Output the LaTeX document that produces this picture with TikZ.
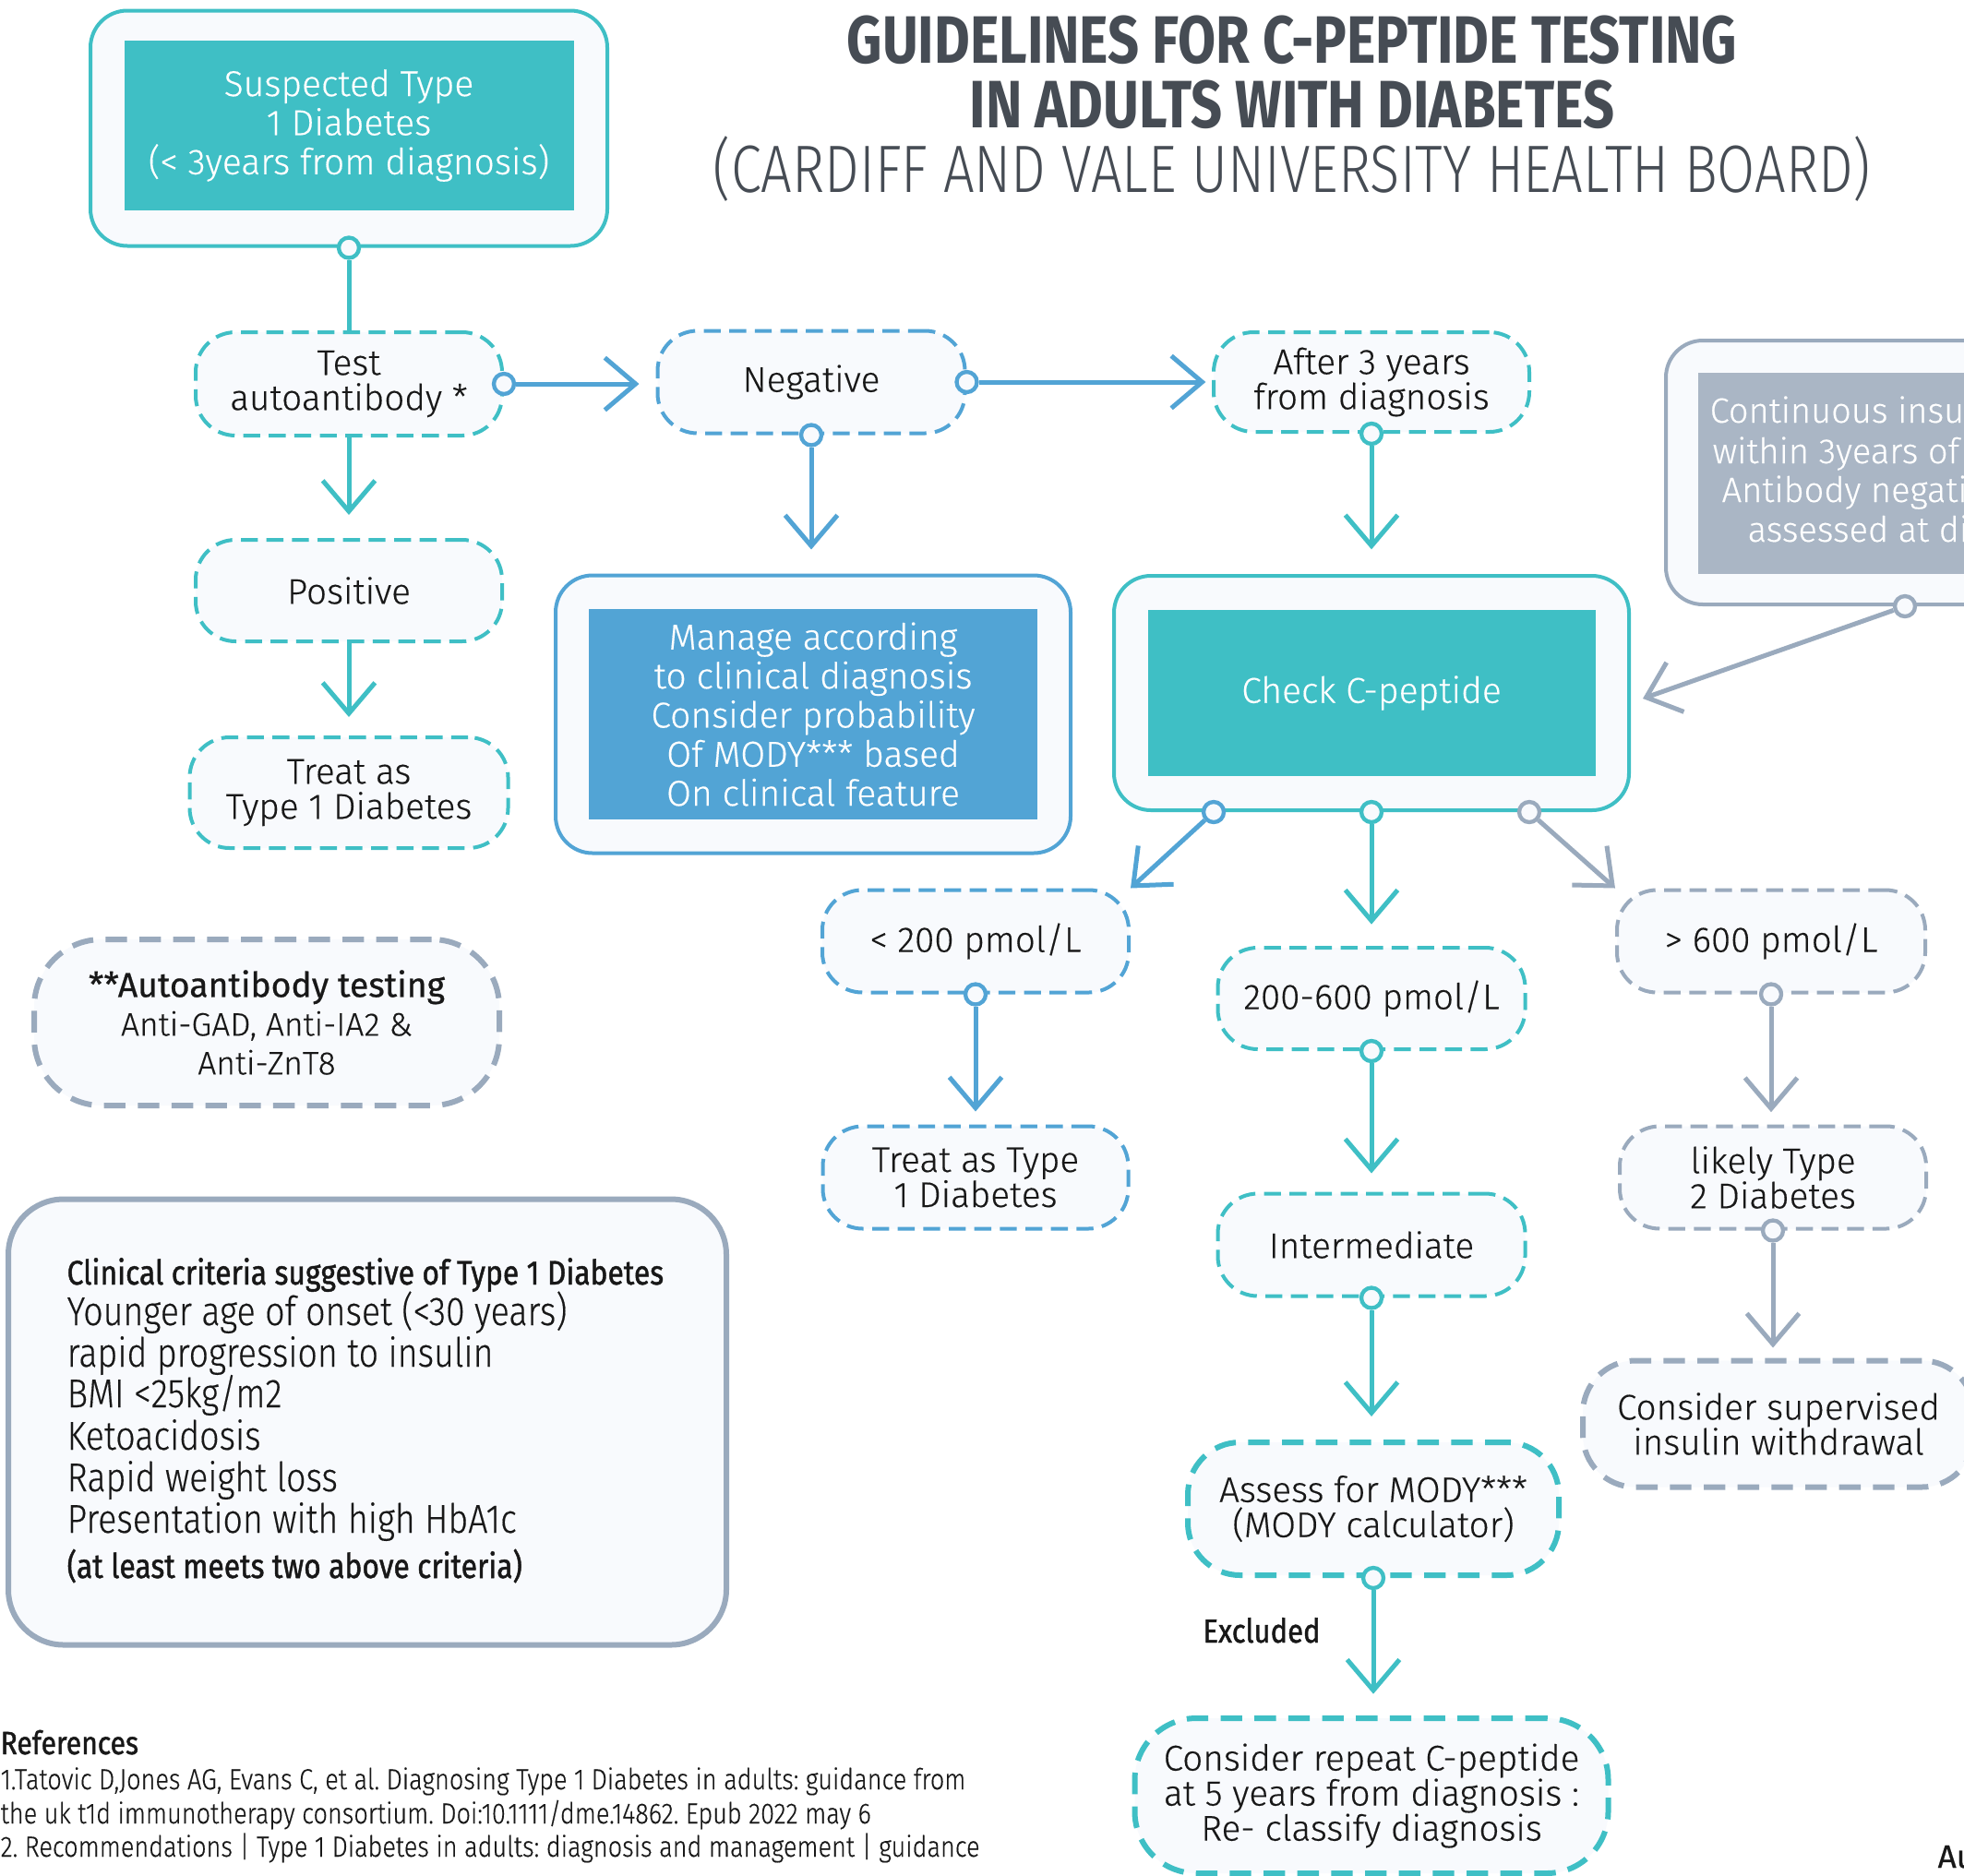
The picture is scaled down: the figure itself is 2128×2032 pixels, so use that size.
\documentclass[tikz,border=0pt]{standalone}
\usepackage{fontspec}
\setmainfont{Fira Sans Light}[FakeBold=0.35]
\newfontfamily\condfont{Fira Sans Light}[FakeStretch=0.86,FakeBold=0.35]
\newfontfamily\condmed{Fira Sans}[FakeStretch=0.86,FakeBold=1.2]
\newfontfamily\medfont{Fira Sans}[FakeBold=0.6]
\newfontfamily\titlefont{Fira Sans}[FakeStretch=0.82]
\newfontfamily\titlelight{Fira Sans Light}[FakeStretch=0.82]
\usetikzlibrary{arrows.meta}
\definecolor{cteal}{RGB}{63,191,197}
\definecolor{cblue}{RGB}{82,164,213}
\definecolor{cgrayl}{RGB}{154,170,189}
\definecolor{cgrayf}{RGB}{170,182,197}
\definecolor{cbg}{RGB}{248,250,253}
\definecolor{ctitle}{RGB}{70,76,84}
\definecolor{ctext}{RGB}{24,24,24}
\newcommand{\myfs}[2]{\fontsize{#1}{#2}\selectfont}
\frenchspacing
\tikzset{
  sz/.style 2 args={minimum width=#1*0.3pt, minimum height=#2*0.3pt},
  dnode/.style={draw=#1, fill=cbg, line width=1.2pt, dash pattern=on 5.5pt off 2.8pt, rounded corners=13pt, align=center, inner sep=0pt, text=ctext, font=\myfs{11.6}{11.4}},
  dthick/.style={dnode=#1, line width=1.8pt, dash pattern=on 7pt off 4pt},
  obox/.style={draw=#1, fill=cbg, line width=1.2pt, rounded corners=12pt, inner sep=0pt},
  ibox/.style={fill=#1, text=white, align=center, inner sep=0pt, font=\myfs{11.7}{12.7}},
  dot/.style={circle, draw=#1, fill=cbg, line width=1.3pt, minimum size=6.6pt, inner sep=0pt},
  conn/.style={draw=#1, line width=1.5pt, -{Straight Barb[length=10pt,width=17pt]}},
  link/.style={draw=#1, line width=1.5pt},
  ttl/.style={text=ctitle, anchor=base, inner sep=0pt},
  crit/.style={anchor=base west, inner sep=0pt, text=ctext, font=\condfont\myfs{13.1}{14}},
  refl/.style={anchor=base west, inner sep=0pt, text=ctext, font=\condfont\myfs{9.45}{10}},
  ctxt/.style={anchor=base west, inner sep=0pt, text=white, font=\myfs{11.4}{12}},
}
\begin{document}
\begin{tikzpicture}[x=0.3pt,y=-0.3pt]
\clip (0,0) rectangle (2128,2032);
\fill[white] (0,0) rectangle (2128,2032);

% title
\node[ttl, font=\titlefont\bfseries\myfs{21.8}{22}] (t1) at (1400,68) {GUIDELINES FOR C-PEPTIDE TESTING};
\node[ttl, font=\titlefont\bfseries\myfs{21.8}{22}] (t2) at (1400,138) {IN ADULTS WITH DIABETES};
\node[ttl, font=\titlelight\myfs{21.8}{22}] (t3) at (1400,208) {(CARDIFF AND VALE UNIVERSITY HEALTH BOARD)};

% solid boxes
\node[obox=cteal, sz={560}{255}] (sus) at (378,139) {};
\node[ibox=cteal, sz={487}{184}] (susin) at (378,136) {Suspected Type\\1 Diabetes\\(< 3years from diagnosis)};

\node[obox=cblue, sz={558}{301}] (man) at (881,774) {};
\node[ibox=cblue, sz={486}{228}] (manin) at (881,774) {Manage according\\to clinical diagnosis\\Consider probability\\Of MODY*** based\\On clinical feature};

\node[obox=cteal, sz={558}{254}] (chk) at (1486,751) {};
\node[ibox=cteal, sz={485}{180}] (chkin) at (1486,751) {Check C-peptide};

\node[obox=cgrayl, sz={560}{286}] (cont) at (2085,512) {};
\node[ibox=cgrayf, sz={487}{218}] (contin) at (2083,513) {};
\node[ctxt] (ct1) at (1852,458) {Continuous insulin};
\node[ctxt] (ct2) at (1855,502) {within 3years of diagnosis};
\node[ctxt] (ct3) at (1865,544) {Antibody negative};
\node[ctxt] (ct4) at (1893,587) {assessed at diagnosis};

% dashed nodes
\node[dnode=cteal, sz={332}{112}] (test) at (378,416) {Test\\autoantibody *};
\node[dnode=cblue, sz={333}{111}] (neg) at (879,414) {Negative};
\node[dnode=cteal, sz={342}{108}] (aft) at (1486,414) {After 3 years\\from diagnosis};
\node[dnode=cteal, sz={332}{110}] (pos) at (378,640) {Positive};
\node[dnode=cteal, sz={345}{120}] (trl) at (378,859) {Treat as\\Type 1 Diabetes};
\node[dnode=cblue, sz={332}{111}] (lt) at (1057,1020) {< 200 pmol/L};
\node[dnode=cblue, sz={331}{111}] (trm) at (1057,1276) {Treat as Type\\1 Diabetes};
\node[dnode=cteal, sz={333}{110}] (mid) at (1486,1082) {200-600 pmol/L};
\node[dnode=cteal, sz={333}{111}] (int) at (1486,1349) {Intermediate};
\node[dthick=cteal, sz={402}{144}, rounded corners=17pt] (ass) at (1488,1635) {Assess for MODY***\\(MODY calculator)};
\node[dthick=cteal, sz={513}{168}, rounded corners=20pt] (rep) at (1486,1946) {Consider repeat C-peptide\\at 5 years from diagnosis :\\Re- classify diagnosis};
\node[dnode=cgrayl, sz={334}{111}] (gt) at (1919,1020) {> 600 pmol/L};
\node[dnode=cgrayl, sz={332}{111}] (lik) at (1921,1276) {likely Type\\2 Diabetes};
\node[dthick=cgrayl, sz={424}{137}, rounded corners=17pt] (sup) at (1927,1543) {Consider supervised\\insulin withdrawal};
\node[dthick=cgrayl, sz={504}{180}, rounded corners=22pt, font=\myfs{10.6}{12.6}] (auto) at (289,1108) {{\medfont\myfs{11.2}{12.6}**Autoantibody testing}\\Anti-GAD, Anti-IA2 \&\\Anti-ZnT8};

% clinical criteria
\node[draw=cgrayl, fill=cbg, line width=1.8pt, rounded corners=18pt, sz={778}{483}] (clin) at (398,1541) {};
\node[crit, font=\condmed\myfs{11.1}{12}] (cl0) at (72,1392) {Clinical criteria suggestive of Type 1 Diabetes};
\node[crit] (cl1) at (72,1436) {Younger age of onset (<30 years)};
\node[crit] (cl2) at (72,1481) {rapid progression to insulin};
\node[crit] (cl3) at (72,1525) {BMI <25kg/m2};
\node[crit] (cl4) at (72,1571) {Ketoacidosis};
\node[crit] (cl5) at (72,1616) {Rapid weight loss};
\node[crit] (cl6) at (72,1661) {Presentation with high HbA1c};
\node[crit, font=\condmed\myfs{11.1}{12}] (cl7) at (72,1710) {(at least meets two above criteria)};

% dots
\node[dot=cteal] (d_sus) at (sus.south) {};
\node[dot=cblue] (d_test) at (test.east) {};
\node[dot=cblue] (d_neg1) at (neg.east) {};
\node[dot=cblue] (d_neg2) at (neg.south) {};
\node[dot=cteal] (d_aft) at (aft.south) {};
\node[dot=cblue] (d_c1) at ([xshift=-51.3pt]chk.south) {};
\node[dot=cteal] (d_c2) at (chk.south) {};
\node[dot=cgrayl] (d_c3) at ([xshift=51.3pt]chk.south) {};
\node[dot=cgrayl] (d_cont) at ([xshift=-6.3pt]cont.south) {};
\node[dot=cblue] (d_lt) at (lt.south) {};
\node[dot=cteal] (d_mid) at (mid.south) {};
\node[dot=cteal] (d_int) at (int.south) {};
\node[dot=cteal] (d_ass) at (ass.south) {};
\node[dot=cgrayl] (d_gt) at (gt.south) {};
\node[dot=cgrayl] (d_lik) at (lik.south) {};
\coordinate (tipc) at (1780,757);

% connectors
\draw[link=cteal] (d_sus) -- (d_sus |- test.north);
\draw[conn=cteal, shorten >=7.5pt] (test.south) -- (pos.north);
\draw[conn=cblue, shorten >=5.4pt] (d_test) -- (d_test -| neg.west);
\draw[conn=cblue, shorten >=2pt] (d_neg1) -- (d_neg1 -| aft.west);
\draw[conn=cblue, shorten >=7.8pt] (d_neg2) -- (d_neg2 |- man.north);
\draw[conn=cteal, shorten >=8pt] (d_aft) -- (d_aft |- chk.north);
\draw[conn=cteal, shorten >=6pt] (pos.south) -- (trl.north);
\draw[conn=cblue] (d_c1) -- (lt.north east);
\draw[conn=cteal, shorten >=7pt] (d_c2) -- (d_c2 |- mid.north);
\draw[conn=cgrayl] (d_c3) -- (gt.north west);
\draw[conn=cgrayl] (d_cont) -- (tipc);
\draw[conn=cblue, shorten >=4.2pt] (d_lt) -- (d_lt |- trm.north);
\draw[conn=cteal, shorten >=6pt] (d_mid) -- (d_mid |- int.north);
\draw[conn=cteal, shorten >=7.5pt] (d_int) -- (d_int |- ass.north);
\draw[conn=cteal, shorten >=7pt] (d_ass) -- (d_ass |- rep.north);
\draw[conn=cgrayl, shorten >=4pt] (d_gt) -- (d_gt |- lik.north);
\draw[conn=cgrayl, shorten >=3.3pt] (d_lik) -- (d_lik |- sup.north);

% labels
\node[font=\condmed\myfs{10.8}{12}, anchor=base, inner sep=0pt, text=ctext] (excl) at (1367,1780) {Excluded};
\node[refl, font=\condmed\myfs{10.5}{12}] (refh) at (0,1901) {References};
\node[refl] (r1) at (0,1939) {1.Tatovic D,Jones AG, Evans C, et al. Diagnosing Type 1 Diabetes in adults: guidance from};
\node[refl] (r2) at (0,1976) {the uk t1d immunotherapy consortium. Doi:10.1111/dme.14862. Epub 2022 may 6};
\node[refl] (r3) at (0,2012) {2. Recommendations | Type 1 Diabetes in adults: diagnosis and management | guidance};
\node[anchor=base west, inner sep=0pt, text=ctext, font=\medfont\myfs{10.5}{12}] (au) at (2099,2024) {Au};
\end{tikzpicture}
\end{document}
